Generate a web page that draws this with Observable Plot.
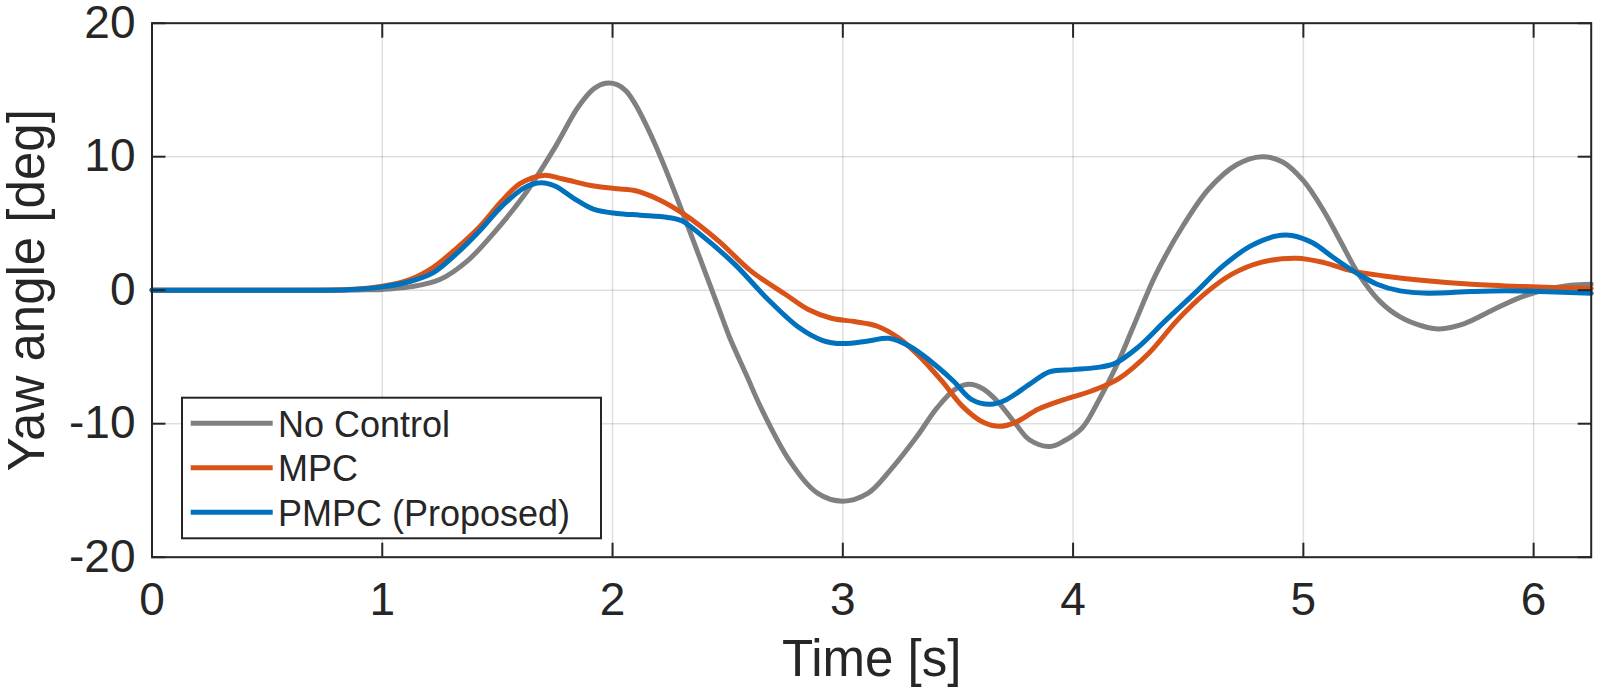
<!DOCTYPE html>
<html>
<head>
<meta charset="utf-8">
<script src="https://cdn.jsdelivr.net/npm/d3@7"></script>
<script src="https://cdn.jsdelivr.net/npm/@observablehq/plot@0.6"></script>
<style>
  html, body { margin: 0; padding: 0; background: #fff; }
  #chart svg { display: block; }
</style>
</head>
<body>
<div id="chart"></div>
<script>
// ---- data ----
const seriesNames = ["No Control", "MPC", "PMPC (Proposed)"];
const seriesColors = ["#808080", "#D95319", "#0072BD"];

const noControlT = [0,0.5,0.9,1.0,1.12,1.25,1.37,1.48,1.62,1.75,1.85,1.92,1.97,2.02,2.06,2.11,2.17,2.22,2.28,2.34,2.40,2.46,2.51,2.58,2.65,2.77,2.89,3.0,3.11,3.21,3.32,3.41,3.49,3.55,3.61,3.67,3.75,3.81,3.90,3.96,4.04,4.11,4.19,4.26,4.36,4.48,4.59,4.71,4.82,4.91,5.0,5.09,5.16,5.24,5.33,5.42,5.52,5.59,5.70,5.82,5.94,6.06,6.16,6.25];
const noControlY = [0,0,0.02,0.06,0.25,0.8,2.2,4.2,7.2,10.7,13.7,15.1,15.5,15.4,14.9,13.6,11.5,9.5,6.9,4.2,1.45,-1.3,-3.6,-6.3,-9.0,-12.8,-15.2,-15.8,-15.2,-13.4,-11.0,-8.8,-7.4,-7.05,-7.4,-8.3,-10.0,-11.2,-11.7,-11.3,-10.3,-8.3,-5.6,-2.8,1.2,4.9,7.6,9.4,10.0,9.6,8.2,5.9,3.7,1.2,-0.8,-2.0,-2.7,-2.9,-2.5,-1.5,-0.55,0.07,0.37,0.45];

const mpcT = [0,0.5,0.85,1.0,1.12,1.22,1.32,1.42,1.52,1.6,1.7,1.78,1.92,2.02,2.1,2.2,2.31,2.46,2.6,2.75,2.85,2.95,3.05,3.15,3.24,3.33,3.43,3.52,3.61,3.68,3.75,3.85,3.96,4.08,4.2,4.33,4.45,4.57,4.69,4.82,4.97,5.09,5.21,5.35,5.5,5.73,5.96,6.25];
const mpcY = [0,0,0.05,0.3,0.8,1.7,3.1,4.7,6.7,8.0,8.6,8.35,7.8,7.6,7.45,6.8,5.7,3.7,1.45,-0.3,-1.45,-2.1,-2.35,-2.7,-3.55,-4.9,-6.8,-8.7,-9.9,-10.2,-9.9,-8.9,-8.2,-7.55,-6.6,-4.7,-2.3,-0.3,1.2,2.1,2.4,2.07,1.45,1.07,0.77,0.45,0.27,0.12];

const pmpcT = [0,0.5,0.85,1.0,1.12,1.22,1.32,1.42,1.52,1.62,1.69,1.75,1.83,1.92,2.02,2.12,2.24,2.30,2.38,2.53,2.67,2.81,2.91,3.0,3.11,3.2,3.29,3.38,3.48,3.56,3.64,3.71,3.81,3.90,4.0,4.1,4.18,4.28,4.4,4.53,4.65,4.77,4.88,4.95,5.04,5.13,5.23,5.32,5.42,5.54,5.73,5.88,6.03,6.25];
const pmpcY = [0,0,0.04,0.25,0.65,1.3,2.7,4.4,6.3,7.7,8.05,7.8,6.9,6.05,5.75,5.62,5.45,5.2,4.2,1.95,-0.6,-2.8,-3.75,-4.0,-3.8,-3.6,-4.2,-5.3,-6.8,-8.2,-8.55,-8.2,-7.05,-6.1,-5.95,-5.8,-5.5,-4.3,-2.3,-0.2,1.8,3.3,4.05,4.1,3.55,2.45,1.3,0.45,-0.05,-0.22,-0.1,-0.05,-0.1,-0.22];

const xTicks = [0, 1, 2, 3, 4, 5, 6];
const yTicks = [-20, -10, 0, 10, 20];
const xDomain = [0, 6.25];
const yDomain = [-20, 20];
const xLabel = "Time [s]";
const yLabel = "Yaw angle [deg]";

// ---- build table ----
const toRows = (T, Y, s) => T.map((t, i) => ({t, v: Y[i], s}));
const rows = [
  ...toRows(noControlT, noControlY, seriesNames[0]),
  ...toRows(mpcT, mpcY, seriesNames[1]),
  ...toRows(pmpcT, pmpcY, seriesNames[2])
];

const ink = "#262626";
const font = "'Liberation Sans', Arial, Helvetica, sans-serif";
const fmt = d => String(d);

const svg = Plot.plot({
  width: 1600,
  height: 693,
  marginLeft: 151.5,
  marginRight: 9.3,
  marginTop: 22.7,
  marginBottom: 136.3,
  style: {fontFamily: font, color: ink, background: "#fff", overflow: "visible"},
  x: {domain: xDomain, ticks: xTicks},
  y: {domain: yDomain, ticks: yTicks},
  color: {domain: seriesNames, range: seriesColors},
  marks: [
    Plot.gridX(xTicks, {stroke: "#000", strokeOpacity: 0.13, strokeWidth: 1.5}),
    Plot.gridY(yTicks, {stroke: "#000", strokeOpacity: 0.13, strokeWidth: 1.5}),
    Plot.line(rows, {x: "t", y: "v", z: "s", stroke: "s", strokeWidth: 5, curve: "catmull-rom", strokeLinejoin: "round"}),
    Plot.frame({stroke: ink, strokeWidth: 2}),
    // inward ticks on all four sides
    Plot.axisX(xTicks, {anchor: "bottom", tickSize: -14, tickFormat: () => "", label: null, stroke: ink, strokeWidth: 2}),
    Plot.axisX(xTicks, {anchor: "top", tickSize: -14, tickFormat: () => "", label: null, stroke: ink, strokeWidth: 2}),
    Plot.axisY(yTicks, {anchor: "left", tickSize: -14, tickFormat: () => "", label: null, stroke: ink, strokeWidth: 2}),
    Plot.axisY(yTicks, {anchor: "right", tickSize: -14, tickFormat: () => "", label: null, stroke: ink, strokeWidth: 2}),
    // tick labels
    Plot.axisX(xTicks, {anchor: "bottom", tickSize: 0, tickPadding: 25, fontSize: 46, tickFormat: fmt, label: null, fill: ink}),
    Plot.axisY(yTicks, {anchor: "left", tickSize: 0, tickPadding: 16.5, fontSize: 46, tickFormat: fmt, label: null, fill: ink}),
    // axis titles
    Plot.text([xLabel], {frameAnchor: "bottom", text: d => d, dy: 83, lineAnchor: "top", textAnchor: "middle", fontSize: 51, fill: ink}),
    Plot.text([yLabel], {frameAnchor: "left", text: d => d, dx: -144, rotate: -90, lineAnchor: "top", textAnchor: "middle", fontSize: 51, fill: ink})
  ]
});

document.getElementById("chart").appendChild(svg);

// ---- legend inside the axes ----
const lg = d3.select(svg).append("g").attr("class", "legend");
const box = {x: 182, y: 397.7, w: 419, h: 140.6};
lg.append("rect")
  .attr("x", box.x).attr("y", box.y).attr("width", box.w).attr("height", box.h)
  .attr("fill", "#fff").attr("stroke", ink).attr("stroke-width", 2);
seriesNames.forEach((name, i) => {
  const cy = 423.3 + i * 44.5;
  lg.append("line")
    .attr("x1", 190.7).attr("x2", 272.7).attr("y1", cy).attr("y2", cy)
    .attr("stroke", seriesColors[i]).attr("stroke-width", 5);
  lg.append("text")
    .attr("x", 278).attr("y", cy + 13.3)
    .attr("font-size", 36).attr("fill", ink)
    .attr("text-anchor", "start")
    .attr("font-family", font)
    .text(name);
});
</script>
</body>
</html>
